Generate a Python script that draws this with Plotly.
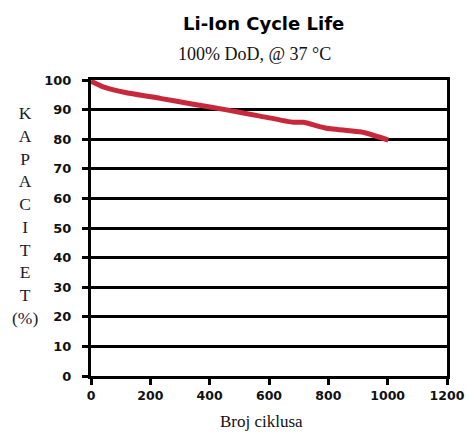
import plotly.graph_objects as go

cycles = [0, 41, 120, 233, 345, 457, 570, 682, 716, 794, 907, 930, 1002]
capacity = [99.6, 97.7, 95.7, 93.8, 91.8, 89.9, 87.8, 85.7, 85.7, 83.7, 82.5, 82.0, 79.7]
x_ticks = [0, 200, 400, 600, 800, 1000, 1200]
y_ticks = [0, 10, 20, 30, 40, 50, 60, 70, 80, 90, 100]
title = "Li-Ion Cycle Life"
subtitle = "100% DoD, @ 37 °C"
y_title_letters = ["K", "A", "P", "A", "C", "I", "T", "E", "T", "(%)"]
x_title = "Broj ciklusa"

fig = go.Figure()
fig.add_trace(go.Scatter(x=cycles, y=capacity, mode="lines",
                         line=dict(color="#c8283c", width=5, shape="spline", smoothing=0.4),
                         showlegend=False, hoverinfo="skip"))

fig.update_layout(
    width=469, height=432,
    margin=dict(l=91, r=22, t=80, b=56, autoexpand=False),
    paper_bgcolor="white", plot_bgcolor="white",
    font=dict(family="DejaVu Sans", color="#111"),
)
fig.update_xaxes(range=[0, 1200], tickvals=x_ticks, ticks="outside", ticklen=6, tickwidth=3,
                 tickcolor="black", showline=True, linewidth=3, linecolor="black", mirror=True,
                 showgrid=False, zeroline=False, automargin=False,
                 tickfont=dict(family="DejaVu Sans", size=12.5, color="#111", weight="bold"))
fig.update_yaxes(range=[0, 100], tickvals=y_ticks, ticks="outside", ticklen=6, tickwidth=3,
                 tickcolor="black", showline=True, linewidth=3, linecolor="black", mirror=True,
                 showgrid=True, gridcolor="black", gridwidth=3, zeroline=False, automargin=False,
                 ticklabelstandoff=8,
                 tickfont=dict(family="DejaVu Sans", size=13, color="#111", weight="bold"))

fig.add_annotation(text="<b>" + title + "</b>", xref="paper", yref="paper", x=0.485, y=1.0,
                   yshift=57, xanchor="center", yanchor="middle", showarrow=False,
                   font=dict(family="DejaVu Sans", size=18, color="black"))
fig.add_annotation(text=subtitle, xref="paper", yref="paper", x=0.46, y=1.0,
                   yshift=26, xanchor="center", yanchor="middle", showarrow=False,
                   font=dict(family="Liberation Serif", size=18, color="#111"))
fig.add_annotation(text="<br>".join(y_title_letters), xref="paper", yref="paper",
                   x=0, xshift=-66, y=0.5, yshift=13, xanchor="center", yanchor="middle",
                   showarrow=False, align="center",
                   font=dict(family="Liberation Serif", size=17.5, color="#1a1a33"))
fig.add_annotation(text=x_title, xref="paper", yref="paper", x=0.48, y=0, yshift=-45,
                   xanchor="center", yanchor="middle", showarrow=False,
                   font=dict(family="Liberation Serif", size=17, color="#111"))

fig.write_html("out.html", config={"displayModeBar": False},
               post_script="document.body.style.margin='0';document.body.style.overflow='hidden';")
